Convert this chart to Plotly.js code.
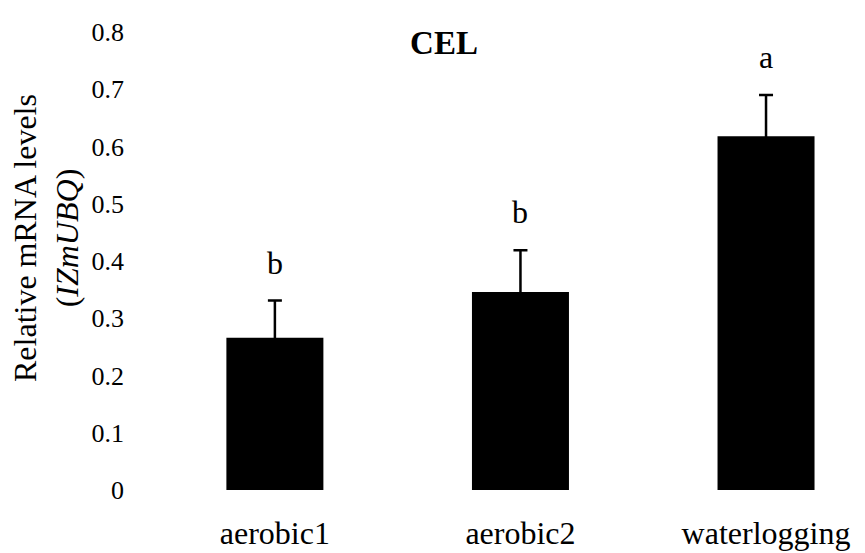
<!DOCTYPE html>
<html>
<head>
<meta charset="utf-8">
<script src="https://cdn.plot.ly/plotly-3.0.1.min.js"></script>
<style>
html,body{margin:0;padding:0;background:#fff;}
#chart{width:865px;height:553px;}
</style>
</head>
<body>
<div id="chart"></div>
<script>
const categories = ["aerobic1", "aerobic2", "waterlogging"];
const values = [0.266, 0.346, 0.618];
const errors = [0.065, 0.073, 0.072];
const letters = ["b", "b", "a"];
const yTicks = [0, 0.1, 0.2, 0.3, 0.4, 0.5, 0.6, 0.7, 0.8];
const yTickLabels = ["0", "0.1", "0.2", "0.3", "0.4", "0.5", "0.6", "0.7", "0.8"];
const yTitle = "Relative mRNA levels<br>(<i>IZmUBQ</i>)";

const FONT = "Liberation Serif, Times New Roman, serif";

const trace = {
  type: "bar",
  x: categories,
  y: values,
  marker: {color: "#000000", line: {color: "#000000", width: 0}},
  width: 0.395,
  error_y: {
    type: "data",
    symmetric: true,
    array: errors,
    color: "#000000",
    thickness: 2.5,
    width: 7
  },
  hoverinfo: "skip"
};

const annotations = categories.map((c, i) => ({
  x: c,
  y: values[i] + errors[i],
  xref: "x",
  yref: "y",
  text: letters[i],
  showarrow: false,
  yanchor: "bottom",
  yshift: 18,
  font: {family: FONT, size: 32, color: "#000"}
}));

annotations.push({
  xref: "paper",
  yref: "paper",
  x: (46 - 130) / 735,
  y: (490 - 238) / 470,
  xanchor: "center",
  yanchor: "middle",
  textangle: -90,
  showarrow: false,
  text: yTitle,
  font: {family: FONT, size: 32, color: "#000"}
});

const layout = {
  width: 865,
  height: 553,
  margin: {l: 130, r: 0, t: 20, b: 63},
  paper_bgcolor: "#ffffff",
  plot_bgcolor: "#ffffff",
  showlegend: false,
  title: {
    text: "<b>CEL</b>",
    font: {family: FONT, size: 33, color: "#000"},
    x: 444 / 865,
    xanchor: "center",
    y: 1 - 42 / 553,
    yanchor: "middle"
  },
  xaxis: {
    range: [-0.59, 2.403],
    showline: false,
    showgrid: false,
    zeroline: false,
    ticks: "",
    tickfont: {family: FONT, size: 32, color: "#000"},
    ticklabelstandoff: 21
  },
  yaxis: {
    range: [0, 0.821],
    showline: false,
    showgrid: false,
    zeroline: false,
    ticks: "",
    tickmode: "array",
    tickvals: yTicks,
    ticktext: yTickLabels,
    tickfont: {family: FONT, size: 26, color: "#000"},
    ticklabelstandoff: 5
  },
  annotations: annotations
};

Plotly.newPlot("chart", [trace], layout, {displayModeBar: false, staticPlot: true});
</script>
</body>
</html>
